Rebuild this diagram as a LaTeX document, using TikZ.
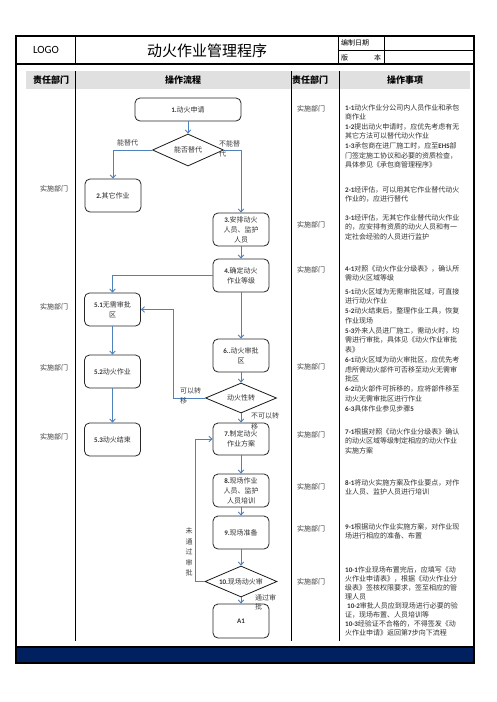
\documentclass[tikz,border=0pt]{standalone}
\usepackage{fontspec}
\setmainfont{Noto Sans CJK SC}
\newfontfamily\carl{Carlito}
\usetikzlibrary{shapes.geometric,arrows.meta}
\definecolor{flowblue}{HTML}{4F81BD}
\definecolor{navyband}{HTML}{002060}
\newcommand\nb[1]{{\carl\bfseries #1}}
\begin{document}
\begin{tikzpicture}[x=1pt,y=-1pt,
  box/.style={draw=black!85, line width=0.8pt, rounded corners=5pt, minimum width=56pt, minimum height=33pt, inner sep=0pt, align=center, font=\fontsize{7}{10}\selectfont, text=black!80},
  dec/.style={draw=black!90, line width=0.8pt, diamond, aspect=4, inner sep=0pt, minimum width=71pt, minimum height=32pt, font=\fontsize{7}{9}\selectfont, text=black!80},
  flow/.style={draw=flowblue, line width=0.9pt, -{Straight Barb[length=3pt,width=5.5pt]}},
  lbl/.style={anchor=north west, font=\fontsize{7}{9.5}\selectfont, text=black!75, align=left, inner sep=0pt},
  dept/.style={font=\fontsize{7}{9}\selectfont, text=black!75, inner sep=0pt},
  desc/.style={anchor=north west, font=\fontsize{7}{9.6}\selectfont, text=black!80, align=left, inner sep=0pt},
  hdr/.style={font=\fontsize{9}{11}\selectfont\bfseries, inner sep=0pt}]
\useasboundingbox (0,0) rectangle (496,702);
\fill[white] (0,0) rectangle (496,702);
% header band
\fill[black!12] (26,71) rectangle (470,89);
\fill[navyband] (16,647) rectangle (474,663);
% frame
\draw[line width=1.8pt] (16,36) rectangle (474,663);
\draw[line width=1.5pt] (16,64) -- (474,64);
\draw[line width=1.5pt] (16,647) -- (474,647);
\draw[line width=0.8pt] (75,36) -- (75,64) (338,36) -- (338,64) (384,36) -- (384,64) (338,50) -- (474,50);
\draw[line width=0.8pt] (75,71) -- (75,641) (291,71) -- (291,641) (339,71) -- (339,641);
% header texts
\node[font=\carl\fontsize{11}{13}\selectfont, inner sep=0pt] (logo) at (46,50) {LOGO};
\node[font=\fontsize{15}{17}\selectfont, inner sep=0pt] (title) at (207,51) {动火作业管理程序};
\node[font=\fontsize{7}{9}\selectfont, anchor=west, inner sep=0pt] (date) at (341,43) {编制日期};
\node[font=\fontsize{7}{9}\selectfont, anchor=west, inner sep=0pt] (ver1) at (341,58) {版};
\node[font=\fontsize{7}{9}\selectfont, anchor=west, inner sep=0pt] (ver2) at (374,58) {本};
\node[hdr] (h1) at (51,80) {责任部门};
\node[hdr] (h2) at (183,80) {操作流程};
\node[hdr] (h3) at (310,80) {责任部门};
\node[hdr] (h4) at (405,80) {操作事项};
% flow nodes
\node[box, minimum width=106pt, minimum height=23pt] (n1) at (188,109.5) {\nb{1.}动火申请};
\node[dec] (d1) at (188,150) {\makebox[0pt]{能否替代}};
\node[box] (n2) at (113,195.5) {\nb{2.}其它作业};
\node[box] (n3) at (241,229.5) {\nb{3.}安排动火\\人员、监护\\人员};
\node[box] (n4) at (241,275.5) {\nb{4.}确定动火\\作业等级};
\node[box] (n51) at (112.5,309.5) {\nb{5.1}无需审批\\区};
\node[box] (n52) at (112.5,371.5) {\nb{5.2}动火作业};
\node[box] (n53) at (112.5,439.5) {\nb{5.3}动火结束};
\node[box] (n6) at (241,355.5) {\nb{6..}动火审批\\区};
\node[dec, minimum height=30pt] (d2) at (241,398) {\makebox[0pt]{动火性转}};
\node[box, minimum height=32pt] (n7) at (241,439) {\nb{7.}制定动火\\作业方案};
\node[box] (n8) at (241,490.5) {\nb{8.}现场作业\\人员、监护\\人员培训};
\node[box] (n9) at (241,532.5) {\nb{9.}现场准备};
\node[dec, minimum width=72pt, minimum height=31pt] (d3) at (241,581.5) {\makebox[0pt]{\nb{10.}现场动火审}};
\node[box, minimum height=34pt] (nA) at (241,621) {\nb{A1}};
% connectors
\draw[flow] (n1.south) -- (d1.north);
\draw[flow] (d1.west) -| (n2.north);
\draw[flow] (d1.east) -| (n3.north);
\draw[flow] (n3.south) -- (n4.north);
\draw[flow] (n4.west) -| (n51.north);
\draw[flow] (n51.south) -- (n52.north);
\draw[flow] (n52.south) -- (n53.north);
\draw[flow] (n4.south) -- (n6.north);
\draw[flow] (n6.south) -- (d2.north);
\coordinate (c1) at (173,398);
\draw[flow] (d2.west) -- (c1) |- (n51.east);
\draw[flow] (d2.south) -- (n7.north);
\draw[flow] (n7.south) -- (n8.north);
\draw[flow] (n8.south) -- (n9.north);
\draw[flow] (n9.south) -- (d3.north);
\draw[flow] (d3.south) -- (nA.north);
\coordinate (c2) at (195,581.5);
\draw[flow] (d3.west) -- (c2) |- (n7.west);
% connector labels
\node[lbl] (l1) at (117,139.5) {能替代};
\node[lbl] (l2) at (219,140.5) {不能替\\代};
\node[lbl] (l3) at (180,387.5) {可以转\\移};
\node[lbl, font=\fontsize{7}{11}\selectfont] (l4) at (251,412.5) {不可以转\\移};
\node[lbl, font=\fontsize{7}{9}\selectfont] (l5) at (255,594.5) {通过审\\批};
\node[lbl, anchor=center, align=center, font=\fontsize{7}{10.5}\selectfont] (l6) at (189,552) {未\\通\\过\\审\\批};
% left departments
\node[dept] (ld1) at (54,189) {实施部门};
\node[dept] (ld2) at (54,307) {实施部门};
\node[dept] (ld3) at (54,368) {实施部门};
\node[dept] (ld4) at (54,437) {实施部门};
% right departments
\node[dept] (rd1) at (311,109) {实施部门};
\node[dept] (rd2) at (311,225) {实施部门};
\node[dept] (rd3) at (311,270) {实施部门};
\node[dept] (rd4) at (311,367) {实施部门};
\node[dept] (rd5) at (311,435) {实施部门};
\node[dept] (rd6) at (311,487) {实施部门};
\node[dept] (rd7) at (311,529) {实施部门};
\node[dept] (rd8) at (311,582) {实施部门};
% descriptions
\node[desc] (t1) at (345,104) {\nb{1-1}动火作业分公司内人员作业和承包\\商作业\\\nb{1-2}提出动火申请时，应优先考虑有无\\其它方法可以替代动火作业\\\nb{1-3}承包商在进厂施工时，应至\nb{EHS}部\\门签定施工协议和必要的资质检查，\\具体参见《承包商管理程序》};
\node[desc] (t2) at (345,186) {\nb{2-1}经评估，可以用其它作业替代动火\\作业的，应进行替代};
\node[desc] (t3) at (345,214) {\nb{3-1}经评估，无其它作业替代动火作业\\的，应安排有资质的动火人员和有一\\定社会经验的人员进行监护};
\node[desc] (t4) at (345,265) {\nb{4-1}对照《动火作业分级表》，确认所\\需动火区域等级};
\node[desc, font=\fontsize{7}{9.75}\selectfont] (t5) at (345,288) {\nb{5-1}动火区域为无需审批区域，可直接\\进行动火作业\\\nb{5-2}动火结束后，整理作业工具，恢复\\作业现场\\\nb{5-3}外来人员进厂施工，需动火时，均\\需进行审批，具体见《动火作业审批\\表》\\\nb{6-1}动火区域为动火审批区，应优先考\\虑所需动火部件可否移至动火无需审\\批区\\\nb{6-2}动火部件可拆移的，应将部件移至\\动火无需审批区进行作业\\\nb{6-3}具体作业参见步骤\nb{5}};
\node[desc] (t7) at (345,428) {\nb{7-1}根据对照《动火作业分级表》确认\\的动火区域等级制定相应的动火作业\\实施方案};
\node[desc] (t8) at (345,479) {\nb{8-1}将动火实施方案及作业要点，对作\\业人员、监护人员进行培训};
\node[desc] (t9) at (345,523) {\nb{9-1}根据动火作业实施方案，对作业现\\场进行相应的准备、布置};
\node[desc, font=\fontsize{7}{9}\selectfont] (t10) at (345,566) {\nb{10-1}作业现场布置完后，应填写《动\\火作业申请表》，根据《动火作业分\\级表》签核权限要求，签至相应的管\\理人员\\\hspace{2pt}\nb{10-2}审批人员应到现场进行必要的验\\证，现场布置、人员培训等\\\nb{10-3}经验证不合格的，不得签发《动\\火作业申请》返回第\nb{7}步向下流程};
\end{tikzpicture}
\end{document}
